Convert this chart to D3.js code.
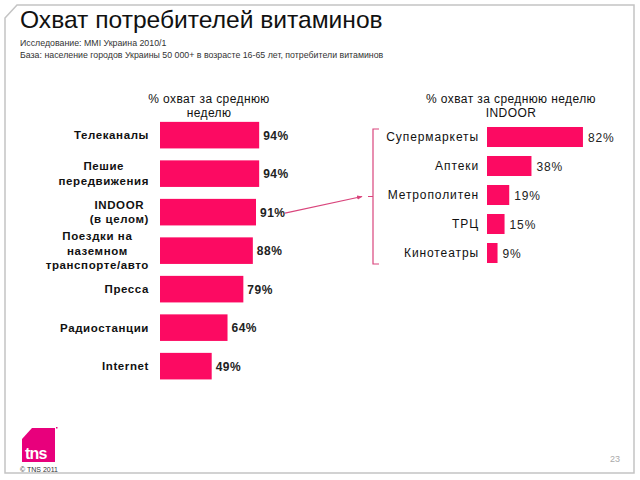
<!DOCTYPE html>
<html><head><meta charset="utf-8">
<script src="https://cdn.jsdelivr.net/npm/d3@7"></script>
<style>
body{margin:0;background:#fff;}
svg{display:block;font-family:"Liberation Sans",Arial,sans-serif;}
</style></head>
<body>
<svg id="c" width="640" height="480"></svg>
<script>
const title = "Охват потребителей витаминов";
const subtitleLines = ["Исследование: MMI Украина 2010/1",
  "База: население городов Украины 50 000+ в возрасте 16-65 лет, потребители витаминов"];
const leftHeader = ["% охват за среднюю", "неделю"];
const rightHeader = ["% охват за среднюю неделю", "INDOOR"];
const leftCategories = ["Телеканалы", "Пешие\nпередвижения", "INDOOR\n(в целом)", "Поездки на\nназемном\nтранспорте/авто", "Пресса", "Радиостанции", "Internet"];
const leftValues = [94, 94, 91, 88, 79, 64, 49];
const rightCategories = ["Супермаркеты", "Аптеки", "Метрополитен", "ТРЦ", "Кинотеатры"];
const rightValues = [82, 38, 19, 15, 9];

const barColor = "#fc0a62";
const accent = "#d9457c";
const svg = d3.select("#c");

// slide frame with bevelled corner
svg.append("path")
  .attr("d", "M5,18 L17,5 L634,5 L634,473 L5,473 Z")
  .attr("fill", "none").attr("stroke", "#c4c4c4").attr("stroke-width", 1.5);

// title
svg.append("text").attr("x", 20).attr("y", 28)
  .attr("font-size", 24.6).attr("fill", "#111").text(title);
svg.selectAll(".sub").data(subtitleLines).join("text")
  .attr("x", 20).attr("y", (d, i) => 46 + i * 11.5)
  .attr("font-size", 8.8).attr("fill", "#333").text(d => d);

// headers
function header(lines, cx) {
  svg.append("g").selectAll("text").data(lines).join("text")
    .attr("x", cx).attr("y", (d, i) => 103 + i * 14)
    .attr("text-anchor", "middle").attr("font-size", 12)
    .attr("letter-spacing", 0.4).attr("fill", "#111").text(d => d);
}
header(leftHeader, 209);
header(rightHeader, 511);

// ----- left chart -----
const xL = d3.scaleLinear().domain([0, 100]).range([160, 265.5]);
const yL = d3.scaleBand().domain(leftCategories).range([115.9, 385.4])
  .paddingInner(0.31).paddingOuter(0.155);

svg.append("g").selectAll("rect").data(leftValues).join("rect")
  .attr("x", xL(0)).attr("y", (d, i) => yL(leftCategories[i]))
  .attr("width", d => xL(d) - xL(0)).attr("height", yL.bandwidth())
  .attr("fill", barColor);

const axL = svg.append("g").attr("transform", `translate(${xL(0)},0)`)
  .call(d3.axisLeft(yL).tickSize(0).tickPadding(11));
axL.select(".domain").remove();
axL.selectAll("text").each(function (d) {
  const t = d3.select(this);
  const lines = d.split("\n");
  t.text(null).attr("font-family", "Liberation Sans, Arial, sans-serif")
    .attr("font-size", 11.5).attr("font-weight", "bold")
    .attr("letter-spacing", 0.6).attr("fill", "#111").attr("dy", null);
  const lh = 14.5;
  lines.forEach((ln, i) => {
    t.append("tspan").attr("x", -11)
      .attr("y", (i - (lines.length - 1) / 2) * lh + 4).text(ln);
  });
  const w = this.getBBox().width;
  t.attr("text-anchor", "middle");
  t.selectAll("tspan").attr("x", -11 - w / 2);
});

svg.append("g").selectAll("text").data(leftValues).join("text")
  .attr("x", d => xL(d) + 4)
  .attr("y", (d, i) => yL(leftCategories[i]) + yL.bandwidth() / 2 + 4.5)
  .attr("font-size", 12).attr("font-weight", "bold").attr("letter-spacing", 0.5)
  .attr("fill", "#222").text(d => d + "%");

// ----- right chart -----
const xR = d3.scaleLinear().domain([0, 100]).range([487, 604]);
const yR = d3.scaleBand().domain(rightCategories).range([122.5, 267.5])
  .paddingInner(0.31).paddingOuter(0.155);

svg.append("g").selectAll("rect").data(rightValues).join("rect")
  .attr("x", xR(0)).attr("y", (d, i) => yR(rightCategories[i]))
  .attr("width", d => xR(d) - xR(0)).attr("height", yR.bandwidth())
  .attr("fill", barColor);

const axR = svg.append("g").attr("transform", `translate(${xR(0)},0)`)
  .call(d3.axisLeft(yR).tickSize(0).tickPadding(8));
axR.select(".domain").remove();
axR.selectAll("text").attr("font-family", "Liberation Sans, Arial, sans-serif")
  .attr("font-size", 12).attr("letter-spacing", 0.9).attr("fill", "#111");

svg.append("g").selectAll("text").data(rightValues).join("text")
  .attr("x", d => xR(d) + 5)
  .attr("y", (d, i) => yR(rightCategories[i]) + yR.bandwidth() / 2 + 4.5)
  .attr("font-size", 12).attr("letter-spacing", 0.9)
  .attr("fill", "#222").text(d => d + "%");

// bracket
const bTop = yR(rightCategories[0]) + 2;
const bBot = yR(rightCategories[rightCategories.length - 1]) + yR.bandwidth() + 1;
const bx = 373;
svg.append("path")
  .attr("d", `M${bx + 6},${bTop} L${bx},${bTop} L${bx},${bBot} L${bx + 6},${bBot} M${bx},${(bTop + bBot) / 2} L${bx - 5},${(bTop + bBot) / 2}`)
  .attr("fill", "none").attr("stroke", accent).attr("stroke-width", 1.2);

// arrow from INDOOR value to bracket
const ay = yL(leftCategories[2]) + yL.bandwidth() / 2 + 1;
const ax0 = xL(leftValues[2]) + 29;
const ax1 = bx - 11, ay1 = (bTop + bBot) / 2;
svg.append("defs").append("marker").attr("id", "ah")
  .attr("viewBox", "0 0 10 10").attr("refX", 9).attr("refY", 5)
  .attr("markerWidth", 5).attr("markerHeight", 5).attr("orient", "auto")
  .append("path").attr("d", "M0,1 L10,5 L0,9 Z").attr("fill", accent);
svg.append("line").attr("x1", ax0).attr("y1", ay).attr("x2", ax1).attr("y2", ay1)
  .attr("stroke", accent).attr("stroke-width", 1.1).attr("marker-end", "url(#ah)");

// logo
svg.append("path").attr("d", "M32,428 L55,428 L55,462 L22,462 L22,439 Z").attr("fill", "#e8007c");
svg.append("rect").attr("x", 56).attr("y", 427).attr("width", 1.5).attr("height", 1.5).attr("fill", "#e8007c");
svg.append("text").attr("x", 25).attr("y", 459).attr("font-size", 16).attr("font-weight", "bold")
  .attr("fill", "#fff").attr("letter-spacing", -0.8).text("tns");
svg.append("text").attr("x", 20).attr("y", 472).attr("font-size", 7).attr("fill", "#333").text("© TNS 2011");
svg.append("text").attr("x", 620).attr("y", 462).attr("text-anchor", "end")
  .attr("font-size", 9).attr("fill", "#aaa").text("23");
</script>
</body></html>
